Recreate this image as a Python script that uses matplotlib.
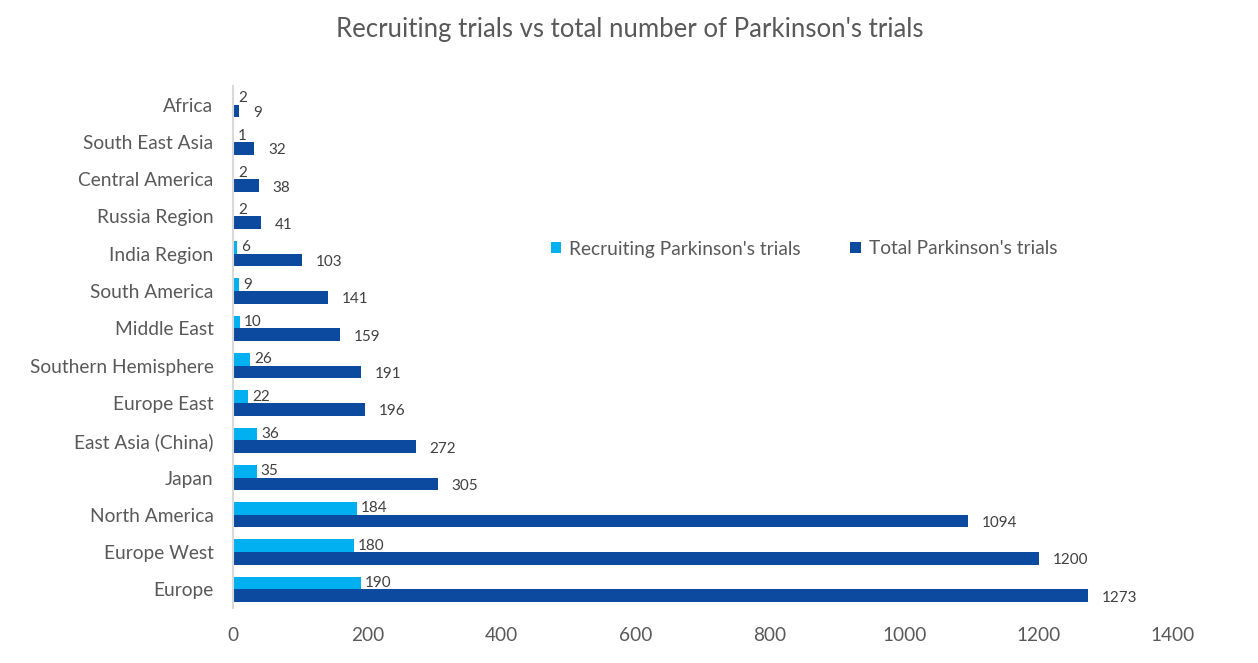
import matplotlib
matplotlib.use("Agg")
import matplotlib.pyplot as plt
import numpy as np

plt.rcParams['font.family'] = ['Lato', 'DejaVu Sans']

regions = ["Europe", "Europe West", "North America", "Japan", "East Asia (China)",
           "Europe East", "Southern Hemisphere", "Middle East", "South America",
           "India Region", "Russia Region", "Central America", "South East Asia", "Africa"]
recruiting = [190, 180, 184, 35, 36, 22, 26, 10, 9, 6, 2, 2, 1, 2]
total = [1273, 1200, 1094, 305, 272, 196, 191, 159, 141, 103, 41, 38, 32, 9]
xticks = [0, 200, 400, 600, 800, 1000, 1200, 1400]

c_light = "#00B0F0"
c_dark = "#0B4A9E"
grey = "#595959"

fig = plt.figure(figsize=(12.58, 6.63), dpi=100)
ax = fig.add_axes([233/1258, 1-608/663, (1173-233)/1258, (608-86)/663])

y = np.arange(len(regions))
h = 0.34
ax.barh(y + h/2, recruiting, height=h, color=c_light, label="Recruiting Parkinson's trials")
ax.barh(y - h/2, total, height=h, color=c_dark, label="Total Parkinson's trials")

for yi, v in zip(y, recruiting):
    ax.annotate(str(v), (v, yi + h/2), xytext=(3, 0), textcoords="offset points",
                va="center", ha="left", fontsize=11, color="#404040")
for yi, v in zip(y, total):
    ax.annotate(str(v), (v, yi - h/2), xytext=(10, -1.5), textcoords="offset points",
                va="center", ha="left", fontsize=11, color="#404040")

ax.set_xlim(0, 1400)
ax.set_ylim(-0.5, len(regions) - 0.5)
ax.set_xticks(xticks)
ax.set_xticklabels([str(t) for t in xticks], fontsize=13.7, color=grey)
ax.set_yticks(y)
ax.set_yticklabels(regions, fontsize=13.8, color=grey)
ax.tick_params(axis='both', length=0)
ax.tick_params(axis='x', pad=14)
ax.tick_params(axis='y', pad=14)
for s in ["top", "right", "bottom"]:
    ax.spines[s].set_visible(False)
ax.spines["left"].set_color("#D9D9D9")
ax.spines["left"].set_linewidth(1.5)

leg = ax.legend(loc="center", bbox_to_anchor=(804/1258, 1-249/663),
                bbox_transform=fig.transFigure, ncol=2, frameon=False,
                fontsize=13.8, handlelength=0.55, handleheight=0.55,
                columnspacing=2.6, handletextpad=0.4)
for t in leg.get_texts():
    t.set_color(grey)

fig.text(630/1258, 1-30/663, "Recruiting trials vs total number of Parkinson's trials",
         ha="center", va="center", fontsize=18.5, color=grey)

fig.savefig("out.png", dpi=100)
